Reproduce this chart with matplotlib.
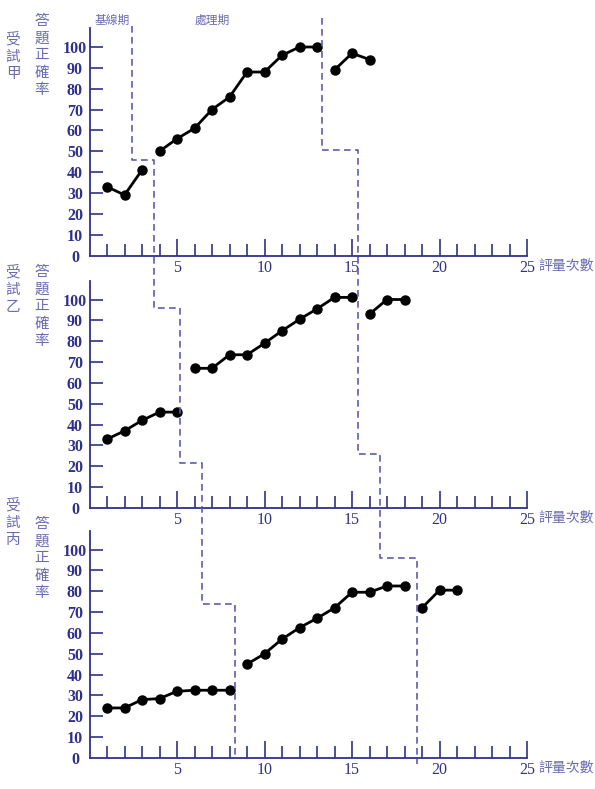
import numpy as np
import matplotlib
matplotlib.use("Agg")
import matplotlib.pyplot as plt
from matplotlib.lines import Line2D

# session numbers and correct-answer rates (%) per phase, per subject
subjects = ["受試甲", "受試乙", "受試丙"]

a_x = [[1, 2, 3], [4, 5, 6, 7, 8, 9, 10, 11, 12, 13], [14, 15, 16]]
a_y = [[33, 29, 41], [50, 56, 61, 70, 76, 88, 88, 96, 100, 100], [89, 97, 94]]

b_x = [[1, 2, 3, 4, 5], [6, 7, 8, 9, 10, 11, 12, 13, 14, 15], [16, 17, 18]]
b_y = [[33, 37, 42, 46, 46], [67, 67, 73.5, 73.5, 79, 85, 90.5, 95.5, 101, 101], [93, 100, 100]]

c_x = [[1, 2, 3, 4, 5, 6, 7, 8], [9, 10, 11, 12, 13, 14, 15, 16, 17, 18], [19, 20, 21]]
c_y = [[24, 24, 28, 28.5, 32, 32.5, 32.5, 32.5],
       [45, 50, 57, 62.5, 67, 72, 79.5, 79.5, 82.5, 82.5], [72, 80.5, 80.5]]

all_x = [a_x, b_x, c_x]
all_y = [a_y, b_y, c_y]

# phase change lines (multiple-baseline staircase)
# verticals, then (panel, level) of each horizontal step
stair1_x = [2.43, 3.69, 5.19, 6.45, 8.31]
stair1_steps = [(0, 46), (1, 95.7), (1, 21.7), (2, 73.7)]
stair1_ends = [(0, 110), (2, 0)]

stair2_x = [13.27, 15.34, 16.6, 18.7]
stair2_steps = [(0, 50.5), (1, 25.8), (2, 95.7)]
stair2_ends = [(0, 114), (2, -3)]

yticks = list(range(0, 101, 10))
xticks_major = [5, 10, 15, 20, 25]

NAVY = "#30308a"
LIGHT = "#6a6ab2"
DASH = "#5c5cab"
CJK = ["Noto Sans CJK TC", "DejaVu Sans"]

W, H = 595, 789
fig = plt.figure(figsize=(W / 100, H / 100), dpi=100)

def fx(px):
    return px / W

def fy(py):
    return 1 - py / H

baselines = [255.5, 508, 758]
x0, x25 = 89.5, 527
ppu = 2.085

axes = []
for i, base in enumerate(baselines):
    ax = fig.add_axes([fx(x0), fy(base), (x25 - x0) / W, 109 * ppu / H])
    ax.set_xlim(0, 25)
    ax.set_ylim(0, 109)
    for s in ["top", "right"]:
        ax.spines[s].set_visible(False)
    for s in ["left", "bottom"]:
        ax.spines[s].set_color(NAVY)
        ax.spines[s].set_linewidth(1.3)
    ax.patch.set_alpha(0)

    ax.set_yticks(yticks[1:], minor=False)
    ax.set_yticklabels([str(t) for t in yticks[1:]])
    ax.set_yticks([0], minor=True)
    ax.set_yticklabels(["0"], minor=True)
    ax.tick_params(axis="y", which="both", direction="in", length=9,
                   width=1.2, color=NAVY, pad=10.5, labelcolor=NAVY,
                   labelsize=11.5)
    ax.tick_params(axis="y", which="minor", length=0)
    for lab in ax.get_yticklabels(which="both"):
        lab.set_horizontalalignment("center")
        lab.set_fontfamily("Liberation Serif")
        lab.set_fontweight("bold")

    ax.set_xticks(xticks_major)
    ax.set_xticks([k for k in range(1, 25) if k not in xticks_major], minor=True)
    ax.tick_params(axis="x", which="major", direction="in", length=12.5,
                   width=1.2, color=NAVY, pad=3, labelcolor=NAVY, labelsize=11.5)
    ax.tick_params(axis="x", which="minor", direction="in", length=9,
                   width=1.2, color=NAVY)
    for lab in ax.get_xticklabels():
        lab.set_fontfamily("Liberation Serif")

    for xs, ys in zip(all_x[i], all_y[i]):
        ax.plot(xs, ys, color="black", lw=2, marker="o", ms=6.5,
                clip_on=False, zorder=5)
    axes.append(ax)

def draw_stair(xs, steps, ends):
    pts = [(ends[0][0], xs[0], ends[0][1])]
    for k, (p, lev) in enumerate(steps):
        pts.append((p, xs[k], lev))
        pts.append((p, xs[k + 1], lev))
    pts.append((ends[1][0], xs[-1], ends[1][1]))
    disp = [axes[p].transData.transform((x, y)) for p, x, y in pts]
    figc = fig.transFigure.inverted().transform(np.array(disp))
    fig.add_artist(Line2D(figc[:, 0], figc[:, 1], transform=fig.transFigure,
                          color=DASH, lw=1.2, linestyle=(0, (4, 2.6))))

draw_stair(stair1_x, stair1_steps, stair1_ends)
draw_stair(stair2_x, stair2_steps, stair2_ends)

# phase names
fig.text(fx(112), fy(20), "基線期", family=CJK, fontsize=8.5, color=LIGHT,
         ha="center", va="center")
fig.text(fx(212), fy(20), "處理期", family=CJK, fontsize=8.5, color=LIGHT,
         ha="center", va="center")

# vertical labels (centre of first character, px from top)
subj_top = [40, 273, 506]
ylab_top = [22, 273, 525]
for i in range(3):
    fig.text(fx(13), fy(subj_top[i] - 8), "\n".join(subjects[i]), family=CJK,
             fontsize=10.5, color=LIGHT, ha="center", va="top",
             linespacing=1.29)
    fig.text(fx(42), fy(ylab_top[i] - 8), "\n".join("答題正確率"), family=CJK,
             fontsize=10.5, color=LIGHT, ha="center", va="top",
             linespacing=1.29)
    fig.text(fx(538), fy(baselines[i] + 10), "評量次數", family=CJK,
             fontsize=10, color=LIGHT, ha="left", va="center")

fig.savefig("out.png", dpi=100)
